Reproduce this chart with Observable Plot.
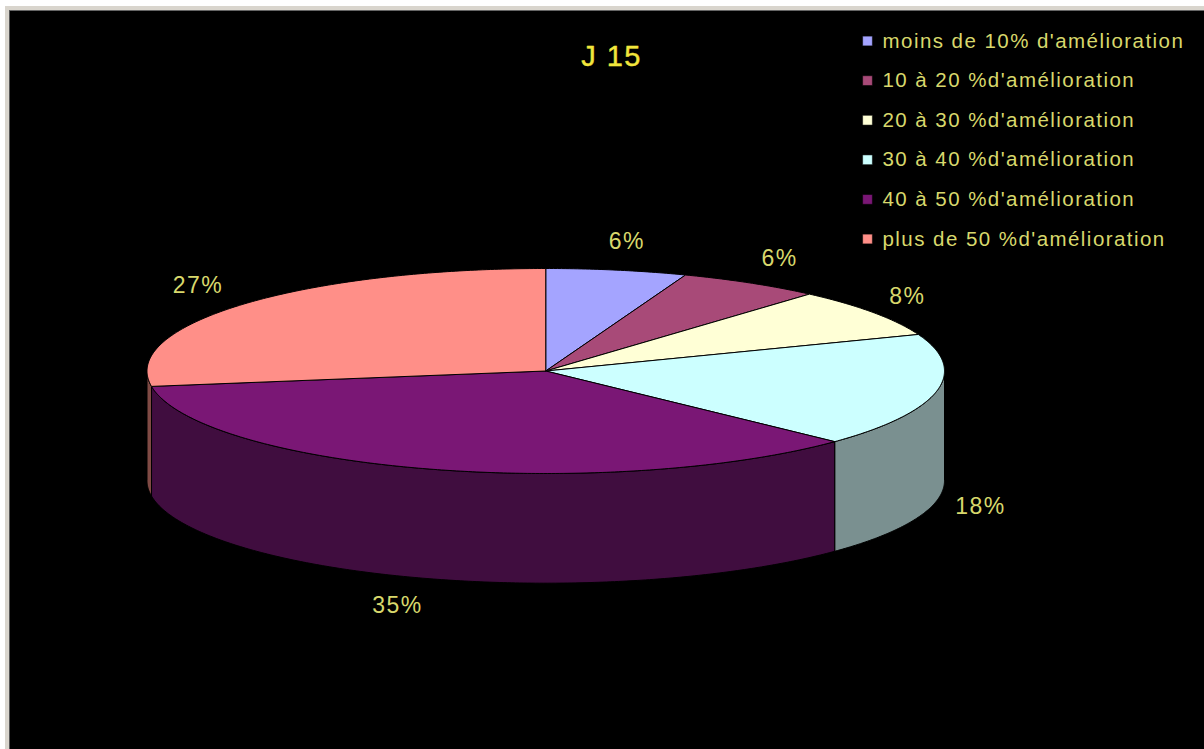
<!DOCTYPE html>
<html lang="fr">
<head>
<meta charset="utf-8">
<script src="https://cdn.jsdelivr.net/npm/d3@7"></script>
<script src="https://cdn.jsdelivr.net/npm/@observablehq/plot@0.6"></script>
<style>
html,body{margin:0;padding:0;width:1204px;height:749px;overflow:hidden;background:#fff}
#strip{position:absolute;left:5px;top:6px;right:0;bottom:0;background:#d9d5cd}
#panel{position:absolute;left:9px;top:10px;right:0;bottom:0;background:#000;border-left:1px solid #555;border-top:1px solid #666}
#chart{position:absolute;left:0;top:0}
#chart text{letter-spacing:1.45px}
</style>
</head>
<body>
<div id="strip"></div><div id="panel"></div><div id="chart"></div>
<script>
const title = "J 15";
const categories = [
  "moins de 10% d'amélioration",
  "10 à 20 %d'amélioration",
  "20 à 30 %d'amélioration",
  "30 à 40 %d'amélioration",
  "40 à 50 %d'amélioration",
  "plus de 50 %d'amélioration"
];
const shares = [5.7, 5.8, 7.7, 17.9, 35.5, 27.4];
const shareLabels = ["6%", "6%", "8%", "18%", "35%", "27%"];
const labelNudge = [0, 0, -12, -11, -12, -3];
const topColors = ["#a4a4ff", "#a84a78", "#ffffd6", "#ccffff", "#7a1775", "#ff8f88"];
const sideColors = ["#52527f", "#54253c", "#7f7f6b", "#7a9090", "#400d3f", "#7f4a44"];
const textColor = "#d8d86c";
const titleColor = "#f2e63c";
const font = "'Liberation Sans', Arial, sans-serif";

// Pie geometry, in pie units: radius 1 on each axis, depth measured in the same vertical units
const depth = 1.07;
const total = d3.sum(shares);
const ends = d3.cumsum(shares).map(v => v / total * 2 * Math.PI);
const starts = [0, ...ends.slice(0, -1)];
const rim = (a, drop = 0) => ({x: Math.sin(a), y: Math.cos(a) - drop});
const arc = (a0, a1, drop = 0) => {
  const n = Math.max(2, Math.ceil((a1 - a0) / 0.01));
  return d3.range(n + 1).map(i => rim(a0 + (a1 - a0) * i / n, drop));
};

// Visible wall: the lower half of the rim, from 90° to 270° clockwise from the top
const walls = shares.map((_, i) => {
  const a0 = Math.max(starts[i], Math.PI / 2), a1 = Math.min(ends[i], 3 * Math.PI / 2);
  if (a1 <= a0) return null;
  const front = arc(a0, a1), back = arc(a0, a1, depth).reverse();
  return {i, pts: [...front, ...back, front[0]]};
}).filter(Boolean);

const tops = shares.map((_, i) => {
  const c = {x: 0, y: 0};
  return {i, pts: [c, ...arc(starts[i], ends[i]), c]};
});

const labels = shares.map((_, i) => {
  const mid = (starts[i] + ends[i]) / 2;
  const lower = Math.cos(mid) < 0;
  return {
    text: shareLabels[i],
    x: 1.14 * Math.sin(mid) + labelNudge[i] / 398.5,
    y: 1.28 * Math.cos(mid) - (lower ? depth : 0)
  };
});

const legendTop = 40.5, legendStep = 39.6, legendTextX = 882, legendKeyX = 867;

const plot = Plot.plot({
  width: 1204, height: 749,
  margin: 0,
  x: {domain: [-1, 1], range: [146.5, 944], axis: null},
  y: {domain: [-1, 1], range: [473, 268], axis: null},
  style: {background: "transparent"},
  marks: [
    ...walls.map(w => Plot.line(w.pts, {x: "x", y: "y", fill: sideColors[w.i], stroke: "#000", strokeWidth: 1})),
    ...tops.map(t => Plot.line(t.pts, {x: "x", y: "y", fill: topColors[t.i], stroke: "#000", strokeWidth: 1})),
    Plot.text(labels, {x: "x", y: "y", text: "text", fill: textColor, fontSize: 23, fontFamily: font}),
    Plot.text([title], {frameAnchor: "top-left", dx: 611, dy: 56, text: d => d, fill: titleColor, fontSize: 29, fontFamily: font, stroke: titleColor, strokeWidth: 0.4, lineAnchor: "middle", textAnchor: "middle"}),
    ...categories.flatMap((c, i) => [
      Plot.dot([c], {frameAnchor: "top-left", dx: legendKeyX, dy: legendTop + i * legendStep, symbol: "square", r: 5.5, fill: topColors[i], stroke: "#000", strokeWidth: 0.5}),
      Plot.text([c], {frameAnchor: "top-left", dx: legendTextX, dy: legendTop + i * legendStep, text: d => d, fill: textColor, fontSize: 20.5, fontFamily: font, textAnchor: "start", lineAnchor: "middle"})
    ])
  ]
});
document.getElementById("chart").appendChild(plot);
</script>
</body>
</html>
